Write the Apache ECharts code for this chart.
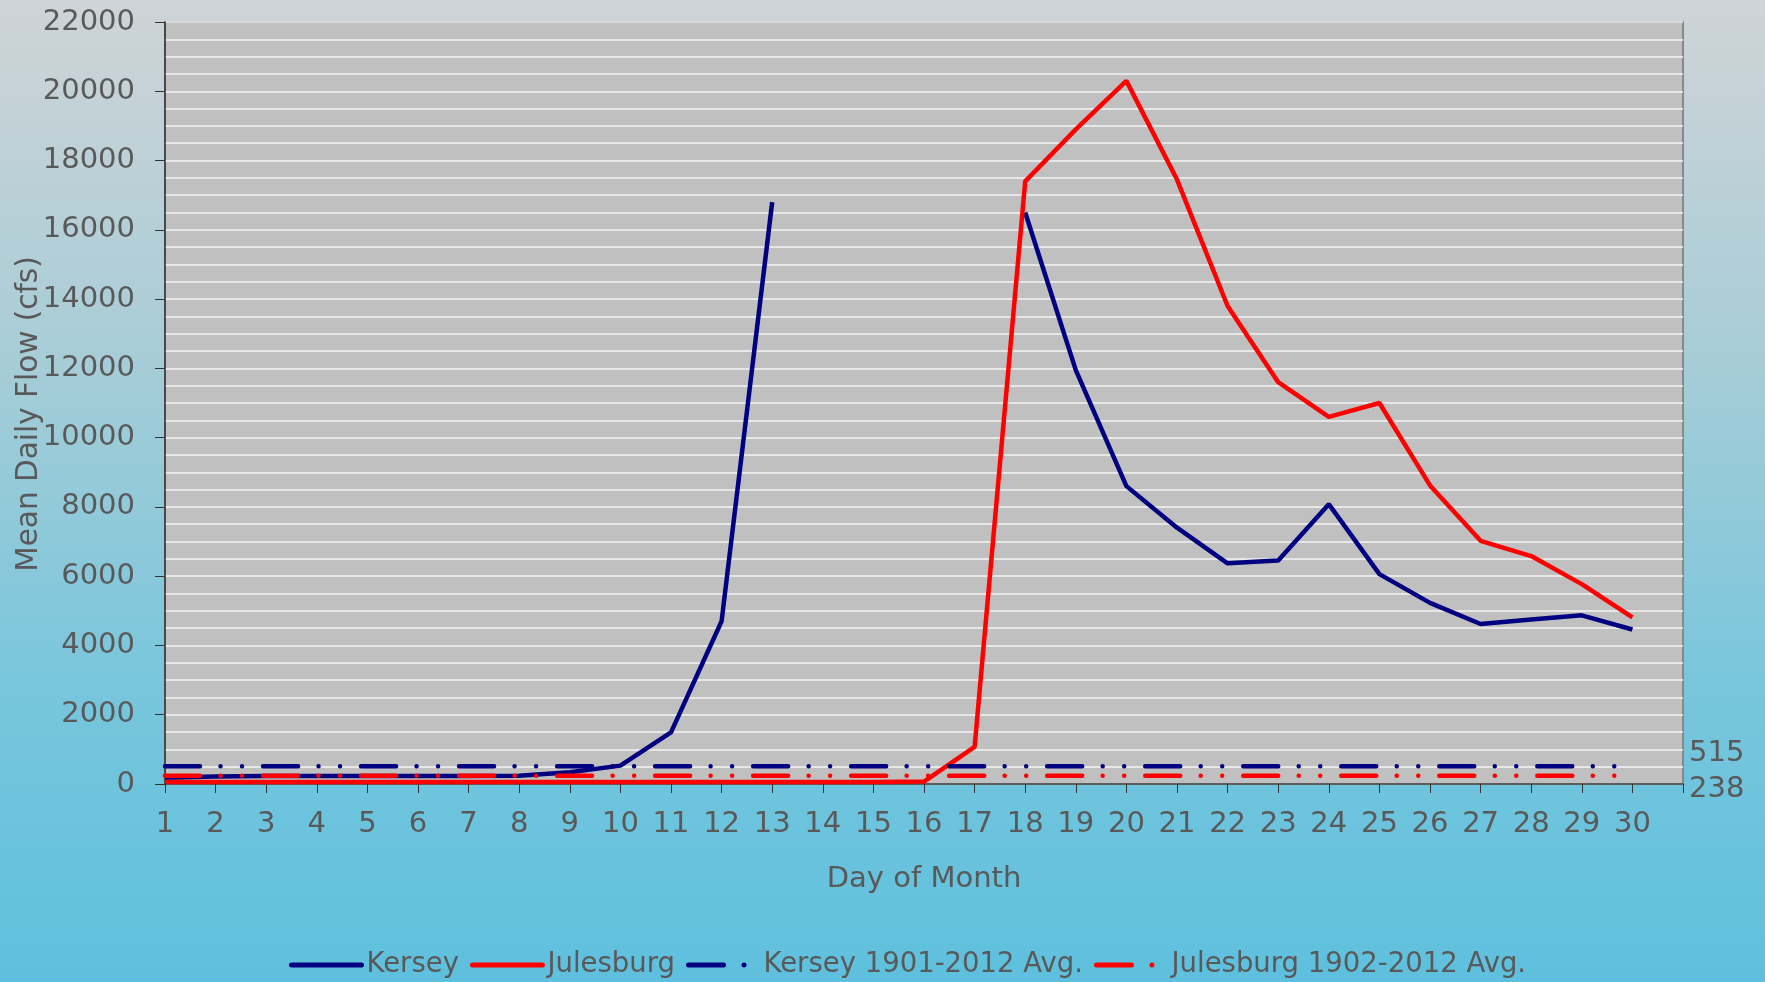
<!DOCTYPE html>
<html>
<head>
<meta charset="utf-8">
<script src="https://cdn.jsdelivr.net/npm/echarts@6/dist/echarts.min.js"></script>
<style>
html,body{margin:0;padding:0;width:1765px;height:982px;overflow:hidden;}
#chart{width:1765px;height:982px;}
</style>
</head>
<body>
<div id="chart"></div>
<script>
// ---- data ----
const DAY_LABELS = ['1','2','3','4','5','6','7','8','9','10','11','12','13','14','15','16','17','18','19','20','21','22','23','24','25','26','27','28','29','30',''];
const KERSEY = [180,220,230,230,230,230,230,240,340,530,1490,4700,16800,null,null,null,null,16500,11950,8600,7400,6370,6450,8080,6060,5230,4620,4750,4870,4460];
const JULESBURG = [60,60,60,60,60,60,60,60,60,60,60,60,60,60,60,70,1070,17400,18900,20300,17450,13800,11600,10600,11000,8620,7020,6580,5770,4810];
const KERSEY_AVG = 515;
const JULESBURG_AVG = 238;
const SERIES_NAMES = ['Kersey','Julesburg','Kersey 1901-2012 Avg.','Julesburg 1902-2012 Avg.'];
const Y_TICKS = {min:0, max:22000, interval:2000};

const kerseyAvgLine = KERSEY.map(() => KERSEY_AVG);
const julesAvgLine = JULESBURG.map(() => JULESBURG_AVG);

const FONT = 'DejaVu Sans';
const TXT = '#595959';
const NAVY = '#000080';
const RED = '#ff0000';
const DASH = [35, 20.5, 0.01, 21.5, 0.01, 21];

const chart = echarts.init(document.getElementById('chart'));
chart.setOption({
  backgroundColor: {
    type:'linear', x:0, y:0, x2:0, y2:1,
    colorStops:[
      {offset:0, color:'#cfd4d7'},
      {offset:0.35, color:'#a9cdd7'},
      {offset:0.7, color:'#78c6dc'},
      {offset:1, color:'#5ec0de'}
    ]
  },
  animation:false,
  textStyle:{fontFamily:FONT},
  grid:{left:165, right:82, top:22, bottom:198, show:true, backgroundColor:'#c0c0c0', borderColor:'#888888', borderWidth:2, containLabel:false, outerBoundsMode:'none'},
  legend:{
    left:289, top:951, padding:0, itemWidth:70, itemHeight:2, itemGap:11,
    textStyle:{fontFamily:FONT, fontSize:27.5, color:TXT},
    lineStyle:{width:5, cap:'round'},
    data:SERIES_NAMES
  },
  xAxis:{
    type:'category', data:DAY_LABELS, boundaryGap:false,
    name:'Day of Month', nameLocation:'middle', nameGap:81,
    nameTextStyle:{fontFamily:FONT, fontSize:29, color:TXT},
    axisLine:{show:true, lineStyle:{color:'#333333', width:1.5}},
    axisTick:{show:true, interval:0, length:9, lineStyle:{color:'#333333', width:1}},
    axisLabel:{interval:0, margin:26, verticalAlign:'top', fontFamily:FONT, fontSize:29, color:TXT},
    splitLine:{show:false}
  },
  yAxis:[{
    type:'value', min:Y_TICKS.min, max:Y_TICKS.max, interval:Y_TICKS.interval,
    name:'Mean Daily Flow (cfs)', nameLocation:'middle', nameGap:121, nameMoveOverlap:false,
    nameTextStyle:{fontFamily:FONT, fontSize:29.5, color:TXT, padding:[0,22,0,0]},
    axisLine:{show:true, lineStyle:{color:'#333333', width:1.5}},
    axisTick:{show:true, length:10, lineStyle:{color:'#333333', width:1}},
    axisLabel:{margin:30, fontFamily:FONT, fontSize:29, color:TXT, formatter:(v) => String(v)},
    splitLine:{show:true, lineStyle:{color:'#f4f4f4', width:1.5}},
    minorTick:{show:false, splitNumber:4},
    minorSplitLine:{show:true, lineStyle:{color:'#f4f4f4', width:1.5}}
  },{
    type:'value', position:'right', min:Y_TICKS.min, max:Y_TICKS.max,
    axisLine:{show:false}, axisTick:{show:false}, splitLine:{show:false},
    axisLabel:{
      show:true, margin:6, customValues:[JULESBURG_AVG, KERSEY_AVG],
      fontFamily:FONT, fontSize:29, color:TXT,
      formatter:(v) => v === KERSEY_AVG ? '{a|' + v + '}' : '{b|' + v + '}',
      rich:{
        a:{fontFamily:FONT, fontSize:29, color:TXT, padding:[0,0,26,0]},
        b:{fontFamily:FONT, fontSize:29, color:TXT, padding:[28,0,0,0]}
      }
    }
  }],
  series:[
    {name:SERIES_NAMES[0], type:'line', data:KERSEY, symbol:'none', connectNulls:false,
     lineStyle:{color:NAVY, width:4.5}, itemStyle:{color:NAVY}},
    {name:SERIES_NAMES[1], type:'line', data:JULESBURG, symbol:'none',
     lineStyle:{color:RED, width:4.5}, itemStyle:{color:RED}},
    {name:SERIES_NAMES[2], type:'line', data:kerseyAvgLine, symbol:'none',
     lineStyle:{color:NAVY, width:4.5, type:DASH, cap:'round'}, itemStyle:{color:NAVY}},
    {name:SERIES_NAMES[3], type:'line', data:julesAvgLine, symbol:'none',
     lineStyle:{color:RED, width:4.5, type:DASH, cap:'round'}, itemStyle:{color:RED}}
  ]
});
</script>
</body>
</html>
